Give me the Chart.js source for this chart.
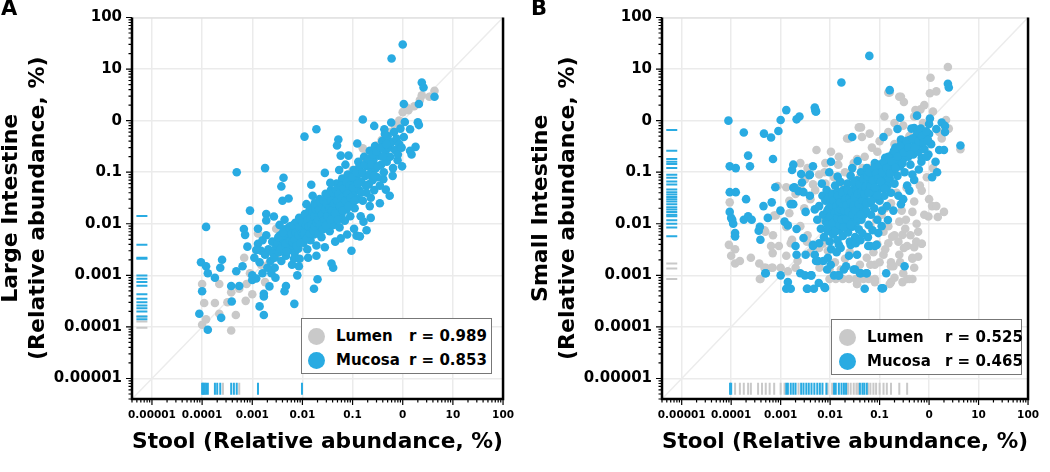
<!DOCTYPE html>
<html>
<head>
<meta charset="utf-8">
<script src="https://cdn.jsdelivr.net/npm/chart.js@4.4.0/dist/chart.umd.min.js"></script>
<style>
  body { margin: 0; background: #fff; font-family: 'DejaVu Sans', sans-serif; }
  #wrap { position: relative; width: 1050px; height: 472px; overflow: hidden; }
  .panel { position: absolute; top: 0; height: 472px; }
  .letter { position: absolute; top: -4px; font-size: 21px; font-weight: bold; }
  .legend { position: absolute; border: 1.5px solid #777; background: #fff; box-sizing: border-box; }
  .legend span { position: absolute; font-size: 15px; font-weight: bold; line-height: 20px; white-space: nowrap; }
  .legend .dot { width: 17px; height: 17px; border-radius: 50%; }
</style>
</head>
<body>
<div id="wrap">
  <div class="panel" style="left:0;width:525px"><canvas id="chartA"></canvas></div>
  <div class="panel" style="left:530px;width:520px"><canvas id="chartB"></canvas></div>
  <div class="letter" style="left:1px">A</div>
  <div class="letter" style="left:531px">B</div>
</div>
<script>
// Stool vs intestine relative abundance (%), log-log

const tickValues = [0.00001, 0.0001, 0.001, 0.01, 0.1, 1, 10, 100];
const tickLabels = ['0.00001', '0.0001', '0.001', '0.01', '0.1', '0', '10', '100'];
const seriesNames = ['Lumen', 'Mucosa'];
const rValuesA = ['0.989', '0.853'];
const rValuesB = ['0.525', '0.465'];

// Panel A: large intestine, [stool, intestine]
const aMucosa = [
  [1, 30], [0.6, 16], [2.4, 5.5], [2.6, 4.4], [4.3, 2.9], [2.1, 2.1], [1.05, 2.1], [0.16, 1.05], [0.019, 0.68],
  [0.011, 0.49], [0.052, 0.43], [0.049, 0.33], [0.27, 0.79], [0.43, 0.68], [0.59, 0.92], [1.1, 0.94], [2.0, 0.93],
  [2.1, 0.82], [1.4, 0.68], [1.8, 0.31], [1.4, 0.26], [1.5, 0.22], [1.05, 0.48], [0.124, 0.36], [0.083, 0.21],
  [0.058, 0.21], [0.97, 0.13], [0.79, 0.17], [0.41, 0.073], [0.46, 0.046], [0.64, 0.12], [0.028, 0.097],
  [0.0042, 0.078], [0.0038, 0.053], [0.23, 0.013], [0.12, 0.0059], [0.015, 0.057],
  [0.00049, 0.10], [0.0018, 0.12], [0.004, 0.028], [0.0053, 0.031], [0.0009, 0.018], [0.00012, 0.0087],
  [0.00068, 0.0079], [0.00072, 0.0061], [0.0013, 0.008], [0.0019, 0.0155], [0.0019, 0.0116], [0.0027, 0.0138],
  [0.0008, 0.0036], [0.0013, 0.0041], [0.000095, 0.0018], [0.00012, 0.0015], [0.00013, 0.0011], [0.00018, 0.0009],
  [0.00023, 0.0014], [0.00025, 0.002], [0.00048, 0.0012], [0.00064, 0.0015], [0.00055, 0.00062], [0.00038, 0.00062],
  [0.00039, 0.00031], [0.0001, 0.00049], [0.000088, 0.00018], [0.00013, 0.000088], [0.00024, 0.00015],
  [0.001, 0.001], [0.001, 0.00081], [0.0012, 0.00087], [0.0016, 0.0011], [0.0017, 0.00044], [0.0017, 0.00039],
  [0.0014, 0.00025], [0.0017, 0.00017], [0.0022, 0.00061], [0.0047, 0.00062], [0.0044, 0.00049], [0.0069, 0.00028],
  [0.017, 0.00055], [0.02, 0.00084], [0.038, 0.0017], [0.041, 0.0014], [0.095, 0.003], [0.14, 0.0057], [0.22, 0.022],
  [0.0079, 0.001], [0.0085, 0.0015], [0.0028, 0.0014],
  [0.0011, 0.0022], [0.0014, 0.0018], [0.0015, 0.003], [0.0018, 0.0025], [0.002, 0.0014], [0.0021, 0.0032],
  [0.0023, 0.0019], [0.0025, 0.0045], [0.0026, 0.0027], [0.0028, 0.0022], [0.003, 0.0035], [0.0012, 0.0031],
  [0.0016, 0.0048], [0.0019, 0.006], [0.0024, 0.0011], [0.0029, 0.0009],
  [0.0032, 0.0042], [0.0034, 0.0028], [0.0036, 0.006], [0.0038, 0.0019], [0.004, 0.0051], [0.0042, 0.0035],
  [0.0045, 0.0078], [0.0047, 0.0024], [0.005, 0.0044], [0.0052, 0.0062], [0.0055, 0.0031], [0.0058, 0.009],
  [0.006, 0.0053], [0.0063, 0.0038], [0.0066, 0.0072], [0.007, 0.0027], [0.0072, 0.0105], [0.0075, 0.0058],
  [0.0078, 0.0046], [0.008, 0.0082], [0.0083, 0.0033], [0.0086, 0.013], [0.009, 0.0067], [0.0093, 0.0052],
  [0.0096, 0.0095], [0.0035, 0.0095], [0.0044, 0.012], [0.0062, 0.0016], [0.0068, 0.0021], [0.0088, 0.0021],
  [0.0102, 0.0075], [0.0105, 0.0043], [0.011, 0.012], [0.0115, 0.0058], [0.012, 0.0088], [0.0125, 0.0032],
  [0.013, 0.016], [0.0135, 0.007], [0.014, 0.0105], [0.0145, 0.0048], [0.015, 0.02], [0.0155, 0.0085],
  [0.016, 0.013], [0.017, 0.0062], [0.0175, 0.025], [0.018, 0.011], [0.019, 0.0038], [0.02, 0.016],
  [0.021, 0.0078], [0.022, 0.03], [0.023, 0.012], [0.024, 0.0055], [0.025, 0.021], [0.026, 0.0095],
  [0.027, 0.015], [0.028, 0.0035], [0.029, 0.038], [0.012, 0.024], [0.016, 0.035], [0.019, 0.0024], [0.013, 0.0022],
  [0.031, 0.018], [0.032, 0.011], [0.034, 0.027], [0.035, 0.0072], [0.037, 0.045], [0.038, 0.015], [0.04, 0.022],
  [0.042, 0.0095], [0.044, 0.035], [0.046, 0.013], [0.048, 0.06], [0.05, 0.019], [0.052, 0.028], [0.055, 0.0085],
  [0.057, 0.042], [0.06, 0.015], [0.062, 0.075], [0.065, 0.024], [0.068, 0.033], [0.07, 0.0115], [0.073, 0.055],
  [0.076, 0.019], [0.08, 0.09], [0.083, 0.028], [0.086, 0.042], [0.09, 0.014], [0.093, 0.065], [0.097, 0.024],
  [0.045, 0.0045], [0.058, 0.0052], [0.078, 0.0062], [0.036, 0.062], [0.054, 0.11], [0.072, 0.14],
  [0.102, 0.038], [0.105, 0.11], [0.11, 0.02], [0.115, 0.055], [0.12, 0.075], [0.125, 0.03], [0.13, 0.16],
  [0.135, 0.045], [0.14, 0.095], [0.145, 0.014], [0.15, 0.065], [0.16, 0.028], [0.17, 0.2], [0.18, 0.085],
  [0.19, 0.04], [0.2, 0.13], [0.21, 0.058], [0.22, 0.26], [0.23, 0.032], [0.24, 0.1], [0.25, 0.07], [0.26, 0.17],
  [0.27, 0.045], [0.28, 0.32], [0.29, 0.12], [0.107, 0.008], [0.165, 0.011], [0.19, 0.0075],
  [0.31, 0.08], [0.33, 0.21], [0.35, 0.055], [0.37, 0.14], [0.39, 0.4], [0.42, 0.1], [0.45, 0.25], [0.48, 0.16],
  [0.5, 0.5], [0.53, 0.3], [0.56, 0.2], [0.6, 0.38], [0.63, 0.085], [0.67, 0.6], [0.7, 0.27], [0.75, 0.45],
  [0.8, 0.22], [0.85, 0.35], [0.9, 0.7], [0.95, 0.3], [0.35, 0.025], [0.55, 0.035],
  [0.0033, 0.0055], [0.0037, 0.0033], [0.0041, 0.0068], [0.0046, 0.0041], [0.0049, 0.0029], [0.0054, 0.0085],
  [0.0057, 0.0047], [0.0061, 0.0065], [0.0064, 0.0044], [0.0067, 0.0095], [0.0071, 0.0049], [0.0074, 0.0068],
  [0.0077, 0.0037], [0.0081, 0.0105], [0.0084, 0.006], [0.0087, 0.0085], [0.0091, 0.0043], [0.0094, 0.012],
  [0.0098, 0.0068], [0.0101, 0.0105], [0.0108, 0.0065], [0.0112, 0.0155], [0.0118, 0.0095], [0.0122, 0.0052],
  [0.0128, 0.012], [0.0133, 0.0088], [0.0138, 0.018], [0.0142, 0.0065], [0.0148, 0.013], [0.0152, 0.0095],
  [0.0158, 0.017], [0.0165, 0.0075], [0.0172, 0.014], [0.0178, 0.0088], [0.0185, 0.019], [0.0192, 0.0105],
  [0.0198, 0.023], [0.0205, 0.012], [0.021, 0.0065], [0.0215, 0.019], [0.0225, 0.0095], [0.0235, 0.025],
  [0.0245, 0.015], [0.0255, 0.0078], [0.0265, 0.028], [0.0275, 0.012], [0.0285, 0.019], [0.0295, 0.0092],
  [0.0305, 0.025], [0.0315, 0.014], [0.033, 0.035], [0.0345, 0.02], [0.036, 0.012], [0.0375, 0.028],
  [0.039, 0.018], [0.041, 0.04], [0.043, 0.025], [0.045, 0.016], [0.047, 0.045], [0.049, 0.028], [0.051, 0.012],
  [0.053, 0.038], [0.056, 0.022], [0.059, 0.055], [0.061, 0.032], [0.064, 0.018], [0.067, 0.048], [0.071, 0.028],
  [0.075, 0.065], [0.079, 0.038], [0.082, 0.022], [0.088, 0.055], [0.092, 0.032], [0.098, 0.08], [0.103, 0.05],
  [0.109, 0.028], [0.118, 0.1], [0.128, 0.06], [0.138, 0.13], [0.148, 0.04], [0.158, 0.1], [0.175, 0.14],
  [0.185, 0.055], [0.205, 0.18], [0.215, 0.09], [0.235, 0.14], [0.255, 0.22], [0.275, 0.085], [0.3, 0.25],
  [0.32, 0.13], [0.36, 0.3], [0.4, 0.2], [0.44, 0.55], [0.47, 0.35]
];
const aLumen = [
  [0.0001, 0.00068], [0.00011, 0.00029], [0.00012, 0.00014], [0.0001, 0.00011], [0.00022, 0.00068],
  [0.00018, 0.00029], [0.00022, 0.00018], [0.00038, 0.00047], [0.00038, 0.000085], [0.00047, 0.00017],
  [0.00074, 0.00032], [0.00077, 0.00068], [0.001, 0.00043], [0.00069, 0.0022], [0.0018, 0.00074],
  [0.0015, 0.0016], [0.0021, 0.0016], [0.00055, 0.00055], [0.00032, 0.0003], [0.0009, 0.0011],
  [0.0025, 0.0028], [0.003, 0.0024], [0.004, 0.0042], [0.005, 0.0055], [0.006, 0.0048], [0.007, 0.0075],
  [0.009, 0.01], [0.011, 0.0095], [0.013, 0.014], [0.016, 0.018], [0.02, 0.017], [0.024, 0.026], [0.03, 0.03],
  [0.036, 0.04], [0.045, 0.042], [0.055, 0.06], [0.07, 0.075], [0.085, 0.08], [0.1, 0.11], [0.13, 0.12],
  [0.16, 0.17], [0.2, 0.22], [0.25, 0.24], [0.3, 0.33], [0.38, 0.42], [0.45, 0.5], [0.55, 0.6], [0.7, 0.75],
  [0.85, 1.0], [1.0, 1.46], [1.2, 1.8], [1.3, 1.6], [1.7, 1.9], [2.2, 2.5], [2.4, 3.1], [3.4, 2.9], [4.3, 3.8],
  [0.16, 0.29], [0.0013, 0.0065], [0.003, 0.008]
];
// taxa absent from stool (left rug) or from the intestine (bottom rug)
const aMucosaRugY = [0.0142, 0.0039, 0.0022, 0.0021, 0.00099, 0.00086, 0.00074, 0.00063, 0.00043, 0.00035,
  0.0003, 0.00026, 0.00023, 0.0002, 0.00016, 0.00014];
const aLumenRugY = [0.000128, 0.000096, 0.00016];
const aMucosaRugX = [0.0001, 0.000105, 0.00011, 0.00012, 0.00013, 0.00018, 0.0002, 0.00023, 0.00038, 0.00043,
  0.00049, 0.0013, 0.0098];
const aLumenRugX = [0.00026, 0.00055, 0.000115];

// Panel B: small intestine, [stool, intestine]
const bMucosa = [
  [0.062, 18], [0.0169, 5.5], [0.16, 3.9], [2.4, 5.2], [2.5, 4.4], [0.0049, 1.8], [0.0052, 1.5], [0.0021, 1.06],
  [0.0024, 1.2], [0.0013, 1.6], [0.001, 1.03], [0.005, 1.65], [0.0051, 1.5], [0.000088, 1.0], [0.00018, 0.59],
  [0.00046, 0.56], [0.00064, 0.47], [0.0009, 0.63], [0.00022, 0.21], [0.0007, 0.18], [0.0000935, 0.13],
  [0.000124, 0.12], [0.00024, 0.13], [0.0018, 0.14], [0.0017, 0.11], [0.0045, 0.13], [0.0000935, 0.041],
  [0.000124, 0.041], [0.0002, 0.03], [0.0000935, 0.017], [0.0001, 0.013], [0.000105, 0.012], [0.00018, 0.012],
  [0.00022, 0.014], [0.00026, 0.012], [0.00045, 0.022], [0.00066, 0.026], [0.00055, 0.013], [0.00078, 0.051],
  [0.00099, 0.018], [0.00038, 0.0087], [0.00036, 0.0073], [0.00039, 0.0049], [0.00012, 0.0066], [0.00012, 0.0057],
  [0.00011, 0.01], [0.0005, 0.0011], [0.001, 0.001], [0.0014, 0.00074], [0.0013, 0.00055], [0.0016, 0.00055],
  [0.0025, 0.0011], [0.0031, 0.001], [0.0041, 0.001], [0.0035, 0.00055], [0.0047, 0.00055], [0.0059, 0.00071],
  [0.0079, 0.00057], [0.0018, 0.05], [0.0023, 0.043], [0.0018, 0.024], [0.0012, 0.011], [0.0014, 0.0093],
  [0.0021, 0.0079], [0.0026, 0.092], [0.0038, 0.087], [0.0029, 0.041], [0.0039, 0.035], [0.0049, 0.019],
  [0.0032, 0.017], [0.0029, 0.0053], [0.0045, 0.0037], [0.0021, 0.0025], [0.0032, 0.0025], [0.0049, 0.0025],
  [0.0057, 0.0019], [0.009, 0.0022], [0.0103, 0.0016], [0.0096, 0.1], [0.0142, 0.082],
  [0.26, 1.14], [0.57, 1.25], [1.04, 1.1], [1.0, 0.86], [1.8, 0.92], [2.1, 0.79], [2.1, 0.6], [1.4, 0.69],
  [4.3, 0.33], [0.028, 0.48], [0.12, 0.48], [0.23, 0.69], [0.5, 0.72], [0.53, 0.37], [1.6, 0.27], [2.0, 0.27],
  [1.35, 0.16], [1.45, 0.1], [1.15, 0.08], [0.97, 0.22], [0.0104, 0.16], [0.036, 0.165], [0.0019, 0.051],
  [0.0027, 0.063], [0.0039, 0.09], [0.0016, 0.024], [0.44, 0.7], [0.27, 0.43],
  [0.32, 0.0015], [0.136, 0.0011], [0.05, 0.00055], [0.11, 0.00056], [0.117, 0.00056], [0.04, 0.0011],
  [0.055, 0.0011], [0.032, 0.0013], [0.021, 0.0015], [0.0152, 0.001], [0.024, 0.0024], [0.035, 0.0025],
  [0.059, 0.0037], [0.087, 0.0039], [0.094, 0.0066], [0.0163, 0.0034], [0.026, 0.0039], [0.147, 0.0118],
  [0.27, 0.024], [0.4, 0.044], [0.5, 0.071], [0.62, 0.113], [0.71, 0.19],
  [0.00049, 0.0011], [0.0052, 0.0019], [0.0073, 0.0019], [0.0087, 0.0013], [0.012, 0.001], [0.0145, 0.001],
  [0.019, 0.0013], [0.03, 0.0013], [0.042, 0.0011], [0.054, 0.0011], [0.002, 0.0037], [0.0045, 0.0039],
  [0.015, 0.0039], [0.064, 0.0037], [0.08, 0.0037], [0.0042, 0.001], [0.0077, 0.00059], [0.0034, 0.00055],
  [0.0055, 0.012], [0.006, 0.022], [0.0065, 0.008], [0.007, 0.035], [0.0072, 0.015], [0.0075, 0.0055],
  [0.008, 0.028], [0.0082, 0.011], [0.0085, 0.045], [0.0088, 0.018], [0.009, 0.0072], [0.0093, 0.032],
  [0.0096, 0.013], [0.0098, 0.0045], [0.006, 0.0042], [0.0068, 0.06],
  [0.0102, 0.025], [0.0105, 0.009], [0.011, 0.016], [0.0112, 0.038], [0.0115, 0.0062], [0.012, 0.021],
  [0.0123, 0.012], [0.0126, 0.055], [0.013, 0.0085], [0.0133, 0.03], [0.0136, 0.017], [0.014, 0.0048],
  [0.0143, 0.042], [0.0146, 0.011], [0.015, 0.024], [0.0155, 0.0075], [0.016, 0.065], [0.0163, 0.014],
  [0.0167, 0.033], [0.017, 0.0095], [0.0175, 0.02], [0.018, 0.0058], [0.0185, 0.045], [0.019, 0.013],
  [0.0195, 0.028], [0.0105, 0.0032], [0.0135, 0.0028],
  [0.0205, 0.009], [0.021, 0.038], [0.022, 0.016], [0.0225, 0.06], [0.023, 0.0068], [0.024, 0.024],
  [0.025, 0.012], [0.026, 0.085], [0.027, 0.019], [0.028, 0.0088], [0.029, 0.032], [0.03, 0.014], [0.031, 0.05],
  [0.032, 0.0055], [0.033, 0.022], [0.034, 0.011], [0.035, 0.07], [0.036, 0.028], [0.037, 0.016],
  [0.038, 0.0078], [0.039, 0.042], [0.04, 0.02], [0.042, 0.1], [0.043, 0.012], [0.044, 0.034], [0.045, 0.0065],
  [0.046, 0.055], [0.047, 0.024], [0.048, 0.015], [0.049, 0.078], [0.025, 0.0045], [0.033, 0.0042],
  [0.041, 0.0048], [0.028, 0.12],
  [0.051, 0.03], [0.053, 0.018], [0.055, 0.12], [0.057, 0.045], [0.06, 0.0095], [0.062, 0.065], [0.064, 0.025],
  [0.067, 0.015], [0.07, 0.09], [0.072, 0.038], [0.075, 0.055], [0.078, 0.02], [0.08, 0.15], [0.083, 0.032],
  [0.086, 0.07], [0.09, 0.012], [0.093, 0.045], [0.096, 0.11], [0.1, 0.028], [0.104, 0.085], [0.108, 0.05],
  [0.112, 0.018], [0.116, 0.13], [0.12, 0.065], [0.125, 0.035], [0.13, 0.19], [0.135, 0.09], [0.14, 0.022],
  [0.145, 0.055], [0.058, 0.0055], [0.072, 0.0075], [0.11, 0.009],
  [0.155, 0.14], [0.16, 0.075], [0.17, 0.04], [0.18, 0.22], [0.19, 0.11], [0.2, 0.06], [0.21, 0.3], [0.22, 0.16],
  [0.23, 0.085], [0.24, 0.035], [0.25, 0.24], [0.26, 0.13], [0.28, 0.38], [0.3, 0.18], [0.32, 0.1], [0.34, 0.28],
  [0.36, 0.055], [0.38, 0.2], [0.4, 0.42], [0.42, 0.14], [0.44, 0.3], [0.46, 0.09], [0.48, 0.22], [0.19, 0.018],
  [0.3, 0.03],
  [0.55, 0.5], [0.6, 0.25], [0.65, 0.35], [0.7, 0.16], [0.75, 0.6], [0.8, 0.28], [0.85, 0.45], [0.9, 0.2],
  [1.0, 0.55], [1.1, 0.35],
  [0.0089, 0.0095], [0.0094, 0.02], [0.0101, 0.014], [0.0108, 0.023], [0.0113, 0.0105], [0.0118, 0.028],
  [0.0124, 0.0165], [0.0129, 0.0072], [0.0134, 0.022], [0.0139, 0.013], [0.0144, 0.035], [0.0149, 0.0175],
  [0.0154, 0.0095], [0.0159, 0.026], [0.0165, 0.019], [0.0171, 0.012], [0.0178, 0.04], [0.0183, 0.022],
  [0.0189, 0.0085], [0.0196, 0.018], [0.0203, 0.03], [0.0212, 0.0125], [0.0218, 0.023], [0.0228, 0.045],
  [0.0235, 0.017], [0.0245, 0.032], [0.0255, 0.0095], [0.0265, 0.026], [0.0275, 0.04], [0.0285, 0.015],
  [0.0295, 0.022], [0.0305, 0.065], [0.0315, 0.032], [0.0325, 0.018], [0.034, 0.045], [0.0355, 0.013],
  [0.0365, 0.038], [0.038, 0.024], [0.0395, 0.058], [0.041, 0.015], [0.043, 0.042], [0.045, 0.028],
  [0.047, 0.075], [0.049, 0.038], [0.052, 0.052], [0.054, 0.025], [0.057, 0.085], [0.06, 0.04], [0.063, 0.1],
  [0.066, 0.055], [0.069, 0.028], [0.073, 0.07], [0.077, 0.12], [0.081, 0.05], [0.085, 0.095], [0.089, 0.035],
  [0.094, 0.075], [0.099, 0.14], [0.106, 0.065], [0.113, 0.1], [0.122, 0.16], [0.128, 0.048], [0.14, 0.12],
  [0.15, 0.2], [0.165, 0.095], [0.175, 0.16], [0.195, 0.26], [0.21, 0.12], [0.23, 0.2], [0.26, 0.32],
  [0.29, 0.15], [0.31, 0.24], [0.35, 0.4], [0.38, 0.3], [0.42, 0.22], [0.46, 0.45], [0.52, 0.3], [0.58, 0.6],
  [0.62, 0.4], [0.68, 0.7], [0.72, 0.5], [0.78, 0.38], [0.88, 0.62], [0.95, 0.42]
];
const bLumen = [
  [0.00009, 0.0039], [0.00012, 0.0032], [0.0001, 0.0024], [0.00012, 0.0017], [0.00037, 0.0017], [0.00038, 0.00085],
  [0.0005, 0.0014], [0.00069, 0.0014], [0.00092, 0.0037], [0.0013, 0.0024], [0.001, 0.0014], [0.0014, 0.0012],
  [0.00069, 0.0027], [0.002, 0.0014], [0.0017, 0.0049], [0.0034, 0.0045], [0.0061, 0.0014], [0.0097, 0.0013],
  [0.013, 0.00085], [0.018, 0.00085], [0.035, 0.00068], [0.047, 0.00085], [0.06, 0.00085], [0.08, 0.00085],
  [0.08, 0.0016], [0.065, 0.0016], [0.17, 0.0018], [0.19, 0.0015], [0.29, 0.00074], [0.36, 0.00085],
  [0.46, 0.00085], [0.17, 0.00074], [0.36, 0.0037], [0.46, 0.0022], [0.71, 0.0041], [0.25, 0.0025],
  [0.12, 0.0025], [0.15, 0.0042],
  [0.15, 3.5], [0.27, 2.9], [1.04, 3.4], [0.31, 2.3], [2.4, 11], [1.07, 6.8], [1.4, 3.7], [0.16, 3.5], [0.25, 2.9],
  [0.125, 1.2], [0.042, 0.74], [0.063, 0.56], [0.022, 0.45], [0.0053, 0.27], [0.0104, 0.25], [0.67, 1.65],
  [2.2, 1.03], [4.3, 0.28], [1.8, 0.45], [0.53, 1.6], [0.038, 0.74], [0.044, 0.48], [0.024, 0.45],
  [0.71, 0.044], [0.5, 0.027], [0.46, 0.017], [1.15, 0.022], [1.4, 0.022], [2.0, 0.017], [1.5, 0.0135],
  [0.97, 0.0138], [0.34, 0.012], [0.56, 0.01], [0.71, 0.0041], [0.29, 0.0061], [0.18, 0.0056], [0.31, 0.0034],
  [0.46, 0.0021], [0.17, 0.0015], [0.4, 0.00085], [0.16, 0.00068], [0.08, 0.00074], [0.033, 0.00085],
  [0.024, 0.00085], [0.035, 0.00068],
  [0.0146, 0.14], [0.0077, 0.1], [0.0031, 0.072], [0.0045, 0.058], [0.0013, 0.051], [0.002, 0.038],
  [0.0015, 0.016], [0.0008, 0.0145], [0.00047, 0.0075], [0.0013, 0.0087], [0.0016, 0.0042], [0.00064, 0.0037],
  [0.00047, 0.0014], [0.00066, 0.0014], [0.00039, 0.00085], [0.0000935, 0.026], [0.0071, 0.0041],
  [0.0125, 0.0018], [0.0165, 0.0013], [0.0097, 0.00085], [0.00087, 0.054], [0.00074, 0.0145], [0.00049, 0.007],
  [0.003, 0.02], [0.004, 0.03], [0.005, 0.045], [0.006, 0.012], [0.0025, 0.009], [0.0035, 0.006], [0.008, 0.06],
  [0.01, 0.04], [0.012, 0.08], [0.02, 0.1], [0.03, 0.15], [0.05, 0.2], [0.07, 0.3], [0.1, 0.4], [0.15, 0.6],
  [0.2, 0.9], [0.3, 0.8], [0.5, 1.2], [0.8, 2.0], [1.2, 1.5], [0.09, 0.25], [0.06, 0.12], [0.04, 0.08],
  [0.2, 0.006], [0.25, 0.011], [0.12, 0.007], [0.09, 0.004], [0.15, 0.009], [0.6, 0.007], [0.8, 0.015],
  [1.0, 0.03], [0.35, 0.05], [0.1, 0.0018], [0.055, 0.0022], [0.04, 0.0016], [0.025, 0.0028], [0.02, 0.0021],
  [0.3, 0.0011], [0.2, 0.0009], [0.5, 0.0014], [0.6, 0.0023], [0.0015, 0.028], [0.0025, 0.05], [0.0007, 0.006],
  [0.00025, 0.0022], [0.00015, 0.0019], [0.0022, 0.0019], [0.004, 0.0028], [0.006, 0.0034], [0.009, 0.003],
  [0.04, 0.04], [0.07, 0.06], [0.1, 0.1], [0.15, 0.12], [0.2, 0.35], [0.4, 0.5],
  [0.11, 0.015], [0.13, 0.02], [0.17, 0.025], [0.22, 0.04], [0.28, 0.018], [0.33, 0.008], [0.42, 0.006],
  [0.55, 0.0045], [0.24, 0.0045], [0.13, 0.0032], [0.075, 0.0028], [0.065, 0.009], [0.085, 0.012], [0.5, 0.0035],
  [0.26, 0.0018], [0.015, 0.2], [0.008, 0.15], [0.006, 0.09], [0.0035, 0.12], [0.0025, 0.15], [0.018, 0.06],
  [0.025, 0.09], [0.035, 0.18], [0.045, 0.12], [0.65, 0.055], [0.9, 0.08], [1.2, 0.12], [1.6, 0.6], [2.5, 0.7],
  [0.75, 0.9]
];
const bMucosaRugY = [0.66, 0.26, 0.18, 0.16, 0.144, 0.12, 0.089, 0.078, 0.066, 0.058, 0.046, 0.041, 0.037, 0.033,
  0.03, 0.027, 0.024, 0.021, 0.019, 0.017, 0.015, 0.014, 0.0117, 0.01, 0.0085, 0.0057];
const bLumenRugY = [0.0017, 0.00135, 0.00085];
const bMucosaRugX = [0.000095, 0.0001, 0.0013, 0.0014, 0.0016, 0.0018, 0.002, 0.0026, 0.0029, 0.0033, 0.0037,
  0.0042, 0.0048, 0.0055, 0.0062, 0.007, 0.0084, 0.012, 0.013, 0.015, 0.017, 0.019, 0.021, 0.04, 0.045, 0.049, 0.055];
const bLumenRugX = [0.00012, 0.00015, 0.00018, 0.00022, 0.00025, 0.00035, 0.00042, 0.0005, 0.0006, 0.00074, 0.001,
  0.0012, 0.0023, 0.0089, 0.011, 0.023, 0.026, 0.03, 0.034, 0.037, 0.058, 0.065, 0.075, 0.085, 0.1, 0.12, 0.14,
  0.17, 0.25, 0.36];

const MIN = 0.000004, MAX = 100, RUG = 0.0000063;
const BLUE = '#29abe2', GRAY = '#c9c9c9';
const FONT = "'DejaVu Sans', sans-serif";

function dots(pairs, color) {
    return {
        data: pairs.map(p => ({ x: p[0], y: p[1] })),
        pointRadius: 4.3,
        pointBackgroundColor: color,
        pointBorderWidth: 0
    };
}

function rug(values, color, onX) {
    return {
        data: values.map(v => onX ? { x: v, y: RUG } : { x: RUG, y: v }),
        pointStyle: 'line',
        pointRotation: onX ? 90 : 0,
        pointRadius: onX ? 6 : 5.5,
        pointBorderColor: color,
        pointBorderWidth: 2
    };
}

function axis(title, isX) {
    return {
        type: 'logarithmic',
        min: MIN,
        max: MAX,
        afterBuildTicks: s => { s.ticks = tickValues.map(v => ({ value: v })); },
        afterFit: s => { if (isX) s.height = 73; else s.width = 132; },
        grid: { color: '#ebebeb', lineWidth: 1.5, drawTicks: false },
        border: { display: false },
        ticks: {
            autoSkip: false,
            maxRotation: 0,
            color: '#000',
            padding: isX ? 11 : 10,
            font: { family: FONT, size: isX ? 10.5 : 15, weight: 'bold', lineHeight: 1 },
            callback: v => {
                const i = tickValues.indexOf(v);
                return i < 0 ? '' : tickLabels[i];
            }
        },
        title: {
            display: true,
            text: title,
            color: '#000',
            font: { family: FONT, size: 22, weight: 'bold', lineHeight: 1.22 },
            padding: isX ? { top: 0, bottom: 16 } : { top: -2, bottom: 0 }
        }
    };
}

// axis lines, box and minor tick marks
const frame = {
    id: 'frame',
    afterDraw(chart) {
        const { ctx, chartArea: a, scales: { x, y } } = chart;
        ctx.save();
        ctx.strokeStyle = '#dcdcdc';
        ctx.lineWidth = 1;
        ctx.beginPath();
        ctx.moveTo(a.left, a.top + 0.5);
        ctx.lineTo(a.right, a.top + 0.5);
        ctx.stroke();

        ctx.strokeStyle = '#000';
        ctx.lineWidth = 2.5;
        ctx.beginPath();
        ctx.moveTo(a.left, a.top);
        ctx.lineTo(a.left, a.bottom);
        ctx.lineTo(a.right, a.bottom);
        ctx.lineTo(a.right, a.top);
        ctx.stroke();

        ctx.lineWidth = 1.2;
        for (let e = -6; e <= 2; e++) {
            for (let m = 1; m < 10; m++) {
                const v = m * Math.pow(10, e);
                if (v < MIN || v > MAX * 1.0001) continue;
                const len = m === 1 ? 6 : 3.5;
                const px = x.getPixelForValue(v);
                const py = y.getPixelForValue(v);
                ctx.beginPath();
                ctx.moveTo(px, a.bottom);
                ctx.lineTo(px, a.bottom + len);
                ctx.moveTo(a.left, py);
                ctx.lineTo(a.left - len, py);
                ctx.stroke();
            }
        }
        ctx.restore();
    }
};

function makePanel(canvasId, yTitle, mucosa, lumen, rugs, rightPad) {
    const diagonal = {
        data: [{ x: MIN, y: MIN }, { x: MAX, y: MAX }],
        showLine: true,
        borderColor: '#ececec',
        borderWidth: 1.5,
        pointRadius: 0
    };
    return new Chart(document.getElementById(canvasId), {
        type: 'scatter',
        data: {
            datasets: [
                rug(rugs.mucY, BLUE, false),
                rug(rugs.mucX, BLUE, true),
                dots(mucosa, BLUE),
                rug(rugs.lumY, GRAY, false),
                rug(rugs.lumX, GRAY, true),
                dots(lumen, GRAY),
                diagonal
            ]
        },
        options: {
            responsive: true,
            maintainAspectRatio: false,
            animation: false,
            layout: { padding: { top: 8, right: rightPad, left: 0, bottom: 0 } },
            plugins: { legend: { display: false }, tooltip: { enabled: false } },
            scales: {
                x: axis('Stool (Relative abundance, %)', true),
                y: axis(yTitle, false)
            }
        },
        plugins: [frame]
    });
}

function addLegend(left, top, rValues, dotX, nameX, rX) {
    const box = document.createElement('div');
    box.className = 'legend';
    box.style.cssText = `left:${left}px;top:${top}px;width:191px;height:56px`;
    seriesNames.forEach((name, i) => {
        const cy = 17 + i * 24;
        box.innerHTML +=
            `<span class="dot" style="left:${dotX - 8.5}px;top:${cy - 8.5}px;background:${i === 0 ? GRAY : BLUE}"></span>` +
            `<span style="left:${nameX}px;top:${cy - 10}px">${name}</span>` +
            `<span style="left:${rX}px;top:${cy - 10}px">r = ${rValues[i]}</span>`;
    });
    document.getElementById('wrap').appendChild(box);
}

makePanel('chartA', ['Large Intestine', '(Relative abundance, %)'], aMucosa, aLumen,
    { mucY: aMucosaRugY, mucX: aMucosaRugX, lumY: aLumenRugY, lumX: aLumenRugX }, 17);
makePanel('chartB', ['Small Intestine', '(Relative abundance, %)'], bMucosa, bLumen,
    { mucY: bMucosaRugY, mucX: bMucosaRugX, lumY: bLumenRugY, lumX: bLumenRugX }, 12);

addLegend(301, 318, rValuesA, 14, 34, 107);
addLegend(831, 319, rValuesB, 15, 35, 113);
</script>
</body>
</html>
